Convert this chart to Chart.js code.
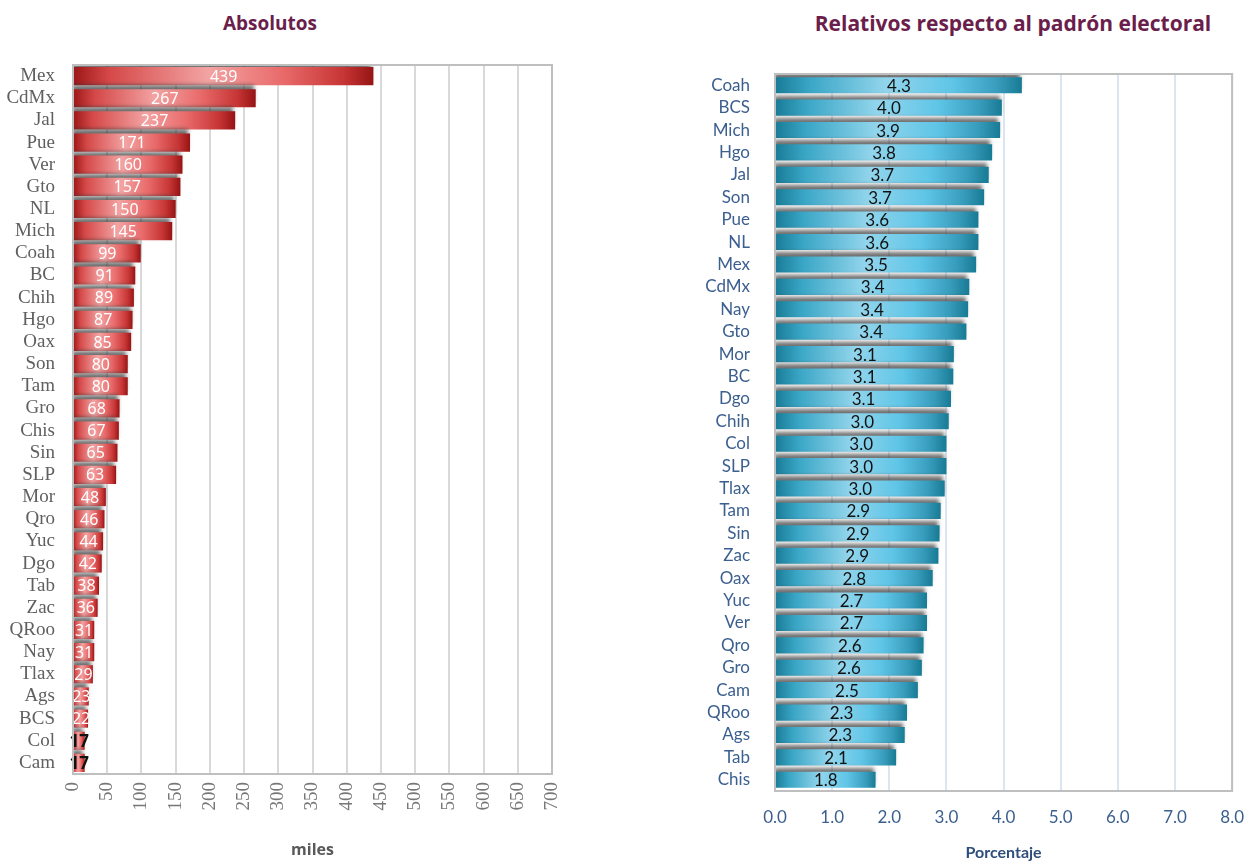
<!DOCTYPE html>
<html>
<head>
<meta charset="utf-8">
<script src="https://cdn.jsdelivr.net/npm/chart.js@4"></script>
<style>
  body { margin: 0; background: #fff; }
  #wrap { position: relative; width: 1248px; height: 862px; overflow: hidden; }
  .ttl { position: absolute; top: 10px; font: bold 19px "Open Sans", sans-serif; color: #6b1e4b; transform: translateX(-50%); white-space: nowrap; }
  #c1 { position: absolute; left: 0; top: 0; }
  #c2 { position: absolute; left: 640px; top: 0; }
</style>
</head>
<body>
<div id="wrap">
  <div class="ttl" style="left:270px">Absolutos</div>
  <div class="ttl" style="left:1013px; font-size:21px; top:9px">Relativos respecto al padrón electoral</div>
  <canvas id="c1" width="600" height="862"></canvas>
  <canvas id="c2" width="620" height="862"></canvas>
</div>
<script>
// absolutos (miles)
const absStates = ["Mex", "CdMx", "Jal", "Pue", "Ver", "Gto", "NL", "Mich", "Coah", "BC", "Chih", "Hgo", "Oax", "Son", "Tam", "Gro",
  "Chis", "Sin", "SLP", "Mor", "Qro", "Yuc", "Dgo", "Tab", "Zac", "QRoo", "Nay", "Tlax", "Ags", "BCS", "Col", "Cam"];
const absValues = [439, 267, 237, 171, 160, 157, 150, 145, 99, 91, 89, 87, 85, 80, 80, 68,
  67, 65, 63, 48, 46, 44, 42, 38, 36, 31, 31, 29, 23, 22, 17, 17];

// relativos (porcentaje del padron)
const relStates = ["Coah", "BCS", "Mich", "Hgo", "Jal", "Son", "Pue", "NL", "Mex", "CdMx", "Nay", "Gto", "Mor", "BC", "Dgo", "Chih",
  "Col", "SLP", "Tlax", "Tam", "Sin", "Zac", "Oax", "Yuc", "Ver", "Qro", "Gro", "Cam", "QRoo", "Ags", "Tab", "Chis"];
const relValues = [4.32, 3.97, 3.94, 3.8, 3.74, 3.66, 3.56, 3.56, 3.52, 3.4, 3.38, 3.35, 3.13, 3.12, 3.08, 3.04,
  3.0, 3.0, 2.97, 2.9, 2.88, 2.86, 2.76, 2.66, 2.66, 2.6, 2.57, 2.5, 2.31, 2.27, 2.12, 1.76];

const absTicks = { min: 0, max: 700, step: 50 };
const relTicks = { min: 0, max: 8, step: 1 };

const redStops = [[0, "#9c1717"], [0.12, "#d54848"], [0.45, "#f3a3a3"], [0.7, "#e96a6a"], [0.9, "#c73535"], [1, "#961414"]];
const blueStops = [[0, "#187b96"], [0.14, "#3aa6c6"], [0.45, "#92d5ec"], [0.72, "#5fc5e7"], [0.9, "#389dbd"], [1, "#187a94"]];

function barGradient(stops) {
  return function (ctx) {
    const chart = ctx.chart;
    if (!chart.chartArea || ctx.raw === undefined) return stops[2][1];
    const x = chart.scales.x;
    const x0 = x.getPixelForValue(0);
    const x1 = x.getPixelForValue(ctx.raw);
    if (x1 - x0 < 1) return stops[0][1];
    const g = chart.ctx.createLinearGradient(x0, 0, x1, 0);
    stops.forEach((s) => g.addColorStop(s[0], s[1]));
    return g;
  };
}

// shadow behind bars, value labels, and frame round the plot
function barExtras(opts) {
  return {
    id: "barExtras",
    beforeDatasetsDraw(chart) {
      const c = chart.ctx;
      c.save();
      c.shadowColor = "rgba(50,50,50,0.7)";
      c.shadowOffsetX = -2;
      c.shadowOffsetY = -4;
      c.shadowBlur = 4;
    },
    afterDatasetsDraw(chart) {
      const c = chart.ctx;
      c.restore();
      const meta = chart.getDatasetMeta(0);
      const data = chart.data.datasets[0].data;
      c.save();
      c.textAlign = "center";
      c.textBaseline = "middle";
      meta.data.forEach((el, i) => {
        c.font = opts.font(data[i]);
        c.fillStyle = opts.color(data[i]);
        c.fillText(opts.format(data[i]), (el.x + el.base) / 2, el.y + 1);
      });
      const a = chart.chartArea;
      c.strokeStyle = "#bfbfbf";
      c.lineWidth = 2;
      c.strokeRect(a.left, a.top, a.right - a.left, a.bottom - a.top);
      c.restore();
    },
  };
}

let absChart = new Chart(document.getElementById("c1"), {
  type: "bar",
  data: {
    labels: absStates,
    datasets: [
      {
        data: absValues,
        backgroundColor: barGradient(redStops),
        borderWidth: 0,
        barPercentage: 0.82,
        categoryPercentage: 1,
      },
    ],
  },
  options: {
    indexAxis: "y",
    responsive: false,
    animation: false,
    layout: { padding: { top: 65, right: 48, left: 0, bottom: 0 } },
    plugins: { legend: { display: false }, tooltip: { enabled: false } },
    scales: {
      x: {
        min: absTicks.min,
        max: absTicks.max,
        ticks: {
          stepSize: absTicks.step,
          minRotation: 90,
          maxRotation: 90,
          padding: 8,
          color: "#777777",
          font: { family: "Liberation Serif", size: 19 },
        },
        grid: { color: "#d9d9d9", lineWidth: 2, drawTicks: false },
        border: { display: false },
        title: {
          display: true,
          text: "miles",
          color: "#595959",
          font: { family: "Open Sans", size: 16, weight: "bold" },
          padding: { top: 0, bottom: 2 },
        },
        afterFit(scale) { scale.height = 88; },
      },
      y: {
        ticks: {
          autoSkip: false,
          padding: 10,
          color: "#5f5f5f",
          font: { family: "Liberation Serif", size: 19 },
        },
        grid: { display: false },
        border: { display: false },
        afterFit(scale) { scale.width = 73; },
      },
    },
  },
  plugins: [
    barExtras({
      font: (v) => (v < 20 ? "bold 17px 'Noto Sans'" : "16px 'Noto Sans'"),
      color: (v) => (v < 20 ? "#111" : "#fff"),
      format: (v) => String(v),
    }),
  ],
});

let relChart = new Chart(document.getElementById("c2"), {
  type: "bar",
  data: {
    labels: relStates,
    datasets: [
      {
        data: relValues,
        backgroundColor: barGradient(blueStops),
        borderWidth: 0,
        barPercentage: 0.72,
        categoryPercentage: 1,
      },
    ],
  },
  options: {
    indexAxis: "y",
    responsive: false,
    animation: false,
    layout: { padding: { top: 74, right: 4, left: 0, bottom: 0 } },
    plugins: { legend: { display: false }, tooltip: { enabled: false } },
    scales: {
      x: {
        min: relTicks.min,
        max: relTicks.max,
        ticks: {
          stepSize: relTicks.step,
          maxRotation: 0,
          padding: 16,
          color: "#3b5f8f",
          font: { family: "Lato", size: 17 },
          callback: (v) => Number(v).toFixed(1),
        },
        grid: { color: "#dbe5f1", lineWidth: 2, drawTicks: false },
        border: { display: false },
        title: {
          display: true,
          text: "Porcentaje",
          color: "#2e4f7a",
          font: { family: "Lato", size: 16, weight: "bold" },
          padding: { top: 0, bottom: 0 },
        },
        afterFit(scale) { scale.height = 71; },
      },
      y: {
        ticks: {
          autoSkip: false,
          padding: 17,
          color: "#3b5f8f",
          font: { family: "Lato", size: 17 },
        },
        grid: { display: false },
        border: { display: false },
        afterFit(scale) { scale.width = 135; },
      },
    },
  },
  plugins: [
    barExtras({
      font: () => "17px Lato",
      color: () => "#111",
      format: (v) => v.toFixed(1),
    }),
  ],
});
</script>
</body>
</html>
